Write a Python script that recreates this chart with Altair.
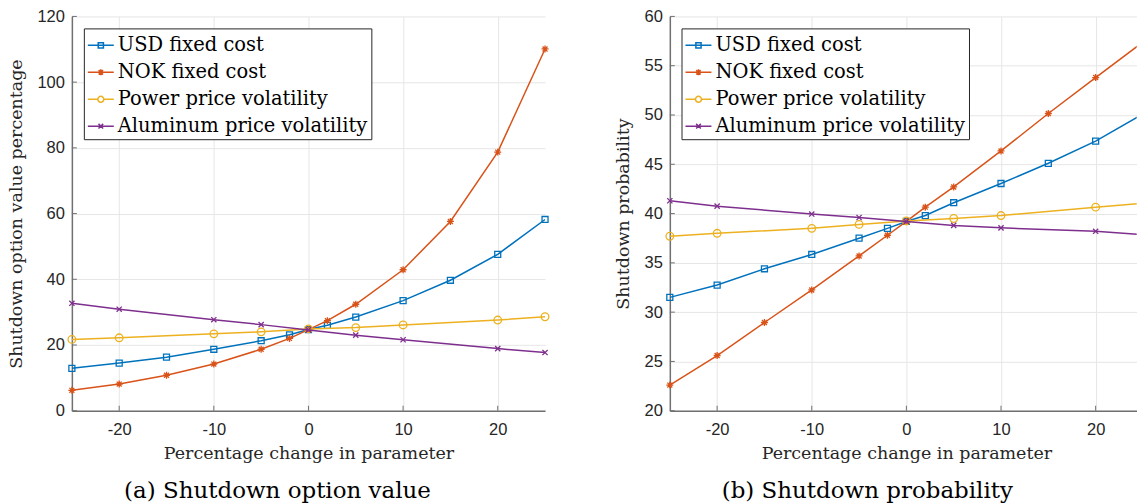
import altair as alt
import pandas as pd

# Series shown in both panels, with MATLAB's default line colours
series_names = ["USD fixed cost", "NOK fixed cost", "Power price volatility", "Aluminum price volatility"]
series_colors = ["#0072BD", "#D95319", "#EDB120", "#7E2F8E"]

# Parameter changes (%) at which each sensitivity was evaluated
cost_steps = [-25, -20, -15, -10, -5, -2, 0, 2, 5, 10, 15, 20, 25]
vol_steps = [-25, -20, -10, -5, 0, 5, 10, 20, 25]

# (a) Shutdown option value, percentage
value_usd = [12.9, 14.5, 16.3, 18.7, 21.3, 23.1, 24.7, 26.0, 28.5, 33.5, 39.7, 47.6, 58.2]
value_nok = [6.2, 8.1, 10.8, 14.2, 18.7, 22.0, 24.7, 27.4, 32.4, 42.9, 57.6, 78.7, 110.1]
value_power = [21.7, 22.2, 23.4, 24.0, 24.9, 25.3, 26.1, 27.6, 28.6]
value_alu = [32.7, 30.9, 27.7, 26.2, 24.6, 23.0, 21.6, 18.9, 17.7]

# (b) Shutdown probability
prob_usd = [31.5, 32.75, 34.4, 35.85, 37.5, 38.5, 39.2, 39.8, 41.1, 43.05, 45.1, 47.35, 50.1]
prob_nok = [22.6, 25.6, 28.95, 32.25, 35.7, 37.8, 39.2, 40.65, 42.7, 46.35, 50.15, 53.8, 57.4]
prob_power = [37.7, 38.0, 38.5, 38.9, 39.25, 39.5, 39.8, 40.65, 41.05]
prob_alu = [41.3, 40.75, 39.95, 39.6, 39.2, 38.8, 38.55, 38.2, 37.85]

# Tick labels
x_tick_values = [-20, -10, 0, 10, 20]
value_ticks = [0, 20, 40, 60, 80, 100, 120]
prob_ticks = [20, 25, 30, 35, 40, 45, 50, 55, 60]

# Marker outlines (square, asterisk, circle, cross) in unit coordinates
marker_paths = [
    "M-0.75,-0.75H0.75V0.75H-0.75Z",
    "M-0.875,0H0.875M0,-0.875V0.875M-0.62,-0.62L0.62,0.62M-0.62,0.62L0.62,-0.62",
    "M0.95,0A0.95,0.95 0 1,1 -0.95,0A0.95,0.95 0 1,1 0.95,0Z",
    "M-0.65,-0.65L0.65,0.65M-0.65,0.65L0.65,-0.65",
]
# Legend keys: a short line with the marker drawn on it
legend_paths = [
    "M-1,0H1M-0.2,-0.2H0.2V0.2H-0.2Z",
    "M-1,0H1M0,-0.23V0.23M-0.17,-0.17L0.17,0.17M-0.17,0.17L0.17,-0.17",
    "M-1,0H-0.23A0.23,0.23 0 1,1 0.23,0A0.23,0.23 0 1,1 -0.23,0M0.23,0H1",
    "M-1,0H1M-0.18,-0.18L0.18,0.18M-0.18,0.18L0.18,-0.18",
]

PLOT_H = 395
AXIS_GREY = "#707070"
SERIF = "DejaVu Serif"
SANS = "Liberation Sans"


def long_table(usd, nok, power, alu):
    rows = []
    steps = [cost_steps, cost_steps, vol_steps, vol_steps]
    for name, xs, ys in zip(series_names, steps, [usd, nok, power, alu]):
        rows += [{"x": a, "y": b, "series": name} for a, b in zip(xs, ys)]
    return pd.DataFrame(rows)


def axis_style(**extra):
    style = dict(
        grid=True, gridColor="#e6e6e6", gridWidth=1,
        domainColor=AXIS_GREY, domainWidth=1.5, ticks=False,
        labelFont=SANS, labelFontSize=16.5, labelColor="#262626",
        labelExpr="toString(datum.value)", labelFlush=False, labelOverlap=False,
        titleFont=SERIF, titleFontSize=17.5, titleFontWeight="normal", titleColor="#262626",
    )
    style.update(extra)
    return alt.Axis(**style)


def make_legend(x_offset, font):
    return alt.Legend(
        title=None, orient="none", legendX=x_offset, legendY=12,
        fillColor="white", strokeColor="#262626", padding=3,
        labelFont=font, labelFontSize=19.5, labelColor="black", labelOffset=3,
        labelLimit=400, symbolSize=676, symbolStrokeWidth=1.5, symbolOpacity=1,
        rowPadding=3,
    )


def panel(table, y_title, y_domain, y_ticks, x_domain, width, caption, caption_dx,
          title_x, legend_x, legend_font):
    x_enc = alt.X(
        "x:Q",
        scale=alt.Scale(domain=x_domain, nice=False, zero=False),
        axis=axis_style(values=x_tick_values, title="Percentage change in parameter",
                        labelPadding=11, titlePadding=6, titleX=title_x),
    )
    y_enc = alt.Y(
        "y:Q",
        scale=alt.Scale(domain=y_domain, nice=False, zero=False),
        axis=axis_style(values=y_ticks, title=y_title, labelPadding=7.5, titlePadding=11.5),
    )

    # inward-pointing tick marks, as MATLAB draws them
    y_ticks_layer = alt.Chart(pd.DataFrame({"y": y_ticks})).mark_rule(
        color=AXIS_GREY, strokeWidth=1
    ).encode(y=y_enc, x=alt.value(0), x2=alt.value(5))
    x_ticks_layer = alt.Chart(pd.DataFrame({"x": x_tick_values})).mark_rule(
        color=AXIS_GREY, strokeWidth=1
    ).encode(x=x_enc, y=alt.value(PLOT_H), y2=alt.value(PLOT_H - 5))

    series_layers = []
    for name, color, path in zip(series_names, series_colors, marker_paths):
        one = alt.Chart(table).transform_filter(alt.datum.series == name)
        series_layers.append(
            one.mark_line(color=color, strokeWidth=1.5, clip=True).encode(x=x_enc, y=y_enc)
        )
        series_layers.append(
            one.transform_filter(alt.datum.x <= x_domain[1])
            .mark_point(shape=path, size=64, filled=False, color=color, strokeWidth=1.3, opacity=1)
            .encode(x=x_enc, y=y_enc)
        )

    # legend only: no rows survive the filter, the keys come from the scale domains
    legend_layer = (
        alt.Chart(table)
        .transform_filter("false")
        .mark_point(filled=False, size=676, strokeWidth=1.5, opacity=1)
        .encode(
            x=x_enc, y=y_enc,
            color=alt.Color("series:N", scale=alt.Scale(domain=series_names, range=series_colors),
                            legend=make_legend(legend_x, legend_font)),
            shape=alt.Shape("series:N", scale=alt.Scale(domain=series_names, range=legend_paths),
                            legend=make_legend(legend_x, legend_font)),
        )
    )

    return alt.layer(y_ticks_layer, x_ticks_layer, *series_layers, legend_layer).properties(
        width=width,
        height=PLOT_H,
        title=alt.TitleParams(
            text=caption, orient="bottom", anchor="middle", frame="group",
            font=SERIF, fontSize=23, fontWeight="normal", color="black",
            offset=18, dx=caption_dx,
        ),
    )


left = panel(
    long_table(value_usd, value_nok, value_power, value_alu),
    "Shutdown option value percentage", [0, 120], value_ticks,
    [-25, 25], 474, "(a) Shutdown option value", -31, 237, 12, SERIF,
)
right = panel(
    long_table(prob_usd, prob_nok, prob_power, prob_alu),
    "Shutdown probability", [20, 60], prob_ticks,
    [-25, 24.34], 467.7, "(b) Shutdown probability", -36, 237, 11.7, "DejaVu Serif, serif",
)

chart = (
    alt.hconcat(left, right, spacing=125, bounds="flush")
    .resolve_scale(color="independent", shape="independent")
    .resolve_legend(color="independent", shape="independent")
    .properties(padding={"left": 7, "top": 8, "right": 0, "bottom": 0})
    .configure_view(stroke=None)
)

chart.save("out.html", embed_options={"renderer": "svg", "actions": False})
